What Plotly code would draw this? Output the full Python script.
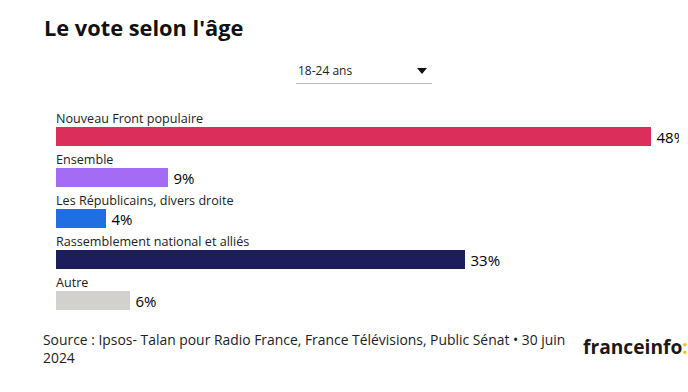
import plotly.graph_objects as go

categories = ["Nouveau Front populaire", "Ensemble", "Les Républicains, divers droite",
              "Rassemblement national et alliés", "Autre"]
values = [48, 9, 4, 33, 6]
colors = ["#DC2E5A", "#A46CF4", "#1F6FE2", "#1E1D5C", "#D2D1CD"]
value_labels = [f"{v}%" for v in values]

W, H = 688, 392
ML, MR, MT, MB = 56, 9, 116, 71
PW, PH = W - ML - MR, H - MT - MB
FONT = "'Open Sans', Lato, sans-serif"

def px(x):
    return (x - ML) / PW

def py(y):
    return (H - MB - y) / PH

fig = go.Figure(go.Bar(
    x=values, y=categories, orientation="h",
    marker=dict(color=colors, line=dict(width=0)),
    width=0.47, hoverinfo="skip",
    text=value_labels, texttemplate="\u2009%{text}",
    textposition="outside", constraintext="none", cliponaxis=True,
    outsidetextfont=dict(family=FONT, size=15, color="#000", weight=500),
))

ann = []
for c in categories:
    ann.append(dict(x=0, y=c, xref="x", yref="y", text=c, showarrow=False,
                    xanchor="left", yanchor="middle", yshift=18, xshift=-2,
                    font=dict(family=FONT, size=12.6, color="#222")))

ann.append(dict(x=px(42), y=py(27), xref="paper", yref="paper", text="<b>Le vote selon l'âge</b>",
                showarrow=False, xanchor="left", yanchor="middle",
                font=dict(family=FONT, size=21.8, color="#111")))
ann.append(dict(x=px(296), y=py(70), xref="paper", yref="paper", text="18-24 ans",
                showarrow=False, xanchor="left", yanchor="middle",
                font=dict(family=FONT, size=12, color="#222")))
ann.append(dict(x=px(41), y=py(348), xref="paper", yref="paper",
                text="Source : Ipsos- Talan pour Radio France, France Télévisions, Public Sénat • 30 juin<br>2024",
                showarrow=False, xanchor="left", yanchor="middle", align="left",
                font=dict(family=FONT, size=13.9, color="#222")))
ann.append(dict(x=px(581), y=py(346), xref="paper", yref="paper",
                text="<b>franceinfo<span style='color:#F5C400'>:</span></b>",
                showarrow=False, xanchor="left", yanchor="middle",
                font=dict(family=FONT, size=19.2, color="#1a1a1a")))

shapes = [
    dict(type="line", xref="paper", yref="paper", x0=px(296), x1=px(432), y0=py(83.5), y1=py(83.5),
         line=dict(color="#BBBBBB", width=1)),
    dict(type="path", xref="paper", yref="paper",
         path=f"M {px(417)} {py(68)} L {px(427)} {py(68)} L {px(422)} {py(74)} Z",
         fillcolor="#111", line=dict(width=0)),
]

fig.update_layout(
    width=W, height=H,
    margin=dict(l=ML, r=MR, t=MT, b=MB, pad=0),
    paper_bgcolor="white", plot_bgcolor="white",
    xaxis=dict(range=[0, 50.26], visible=False, fixedrange=True),
    yaxis=dict(range=[4.5, -0.5], visible=False, fixedrange=True),
    showlegend=False, annotations=ann, shapes=shapes, bargap=0,
)

fig.write_html("out.html", config={"displayModeBar": False},
               post_script="document.body.style.margin='0';document.body.style.overflow='hidden';")
